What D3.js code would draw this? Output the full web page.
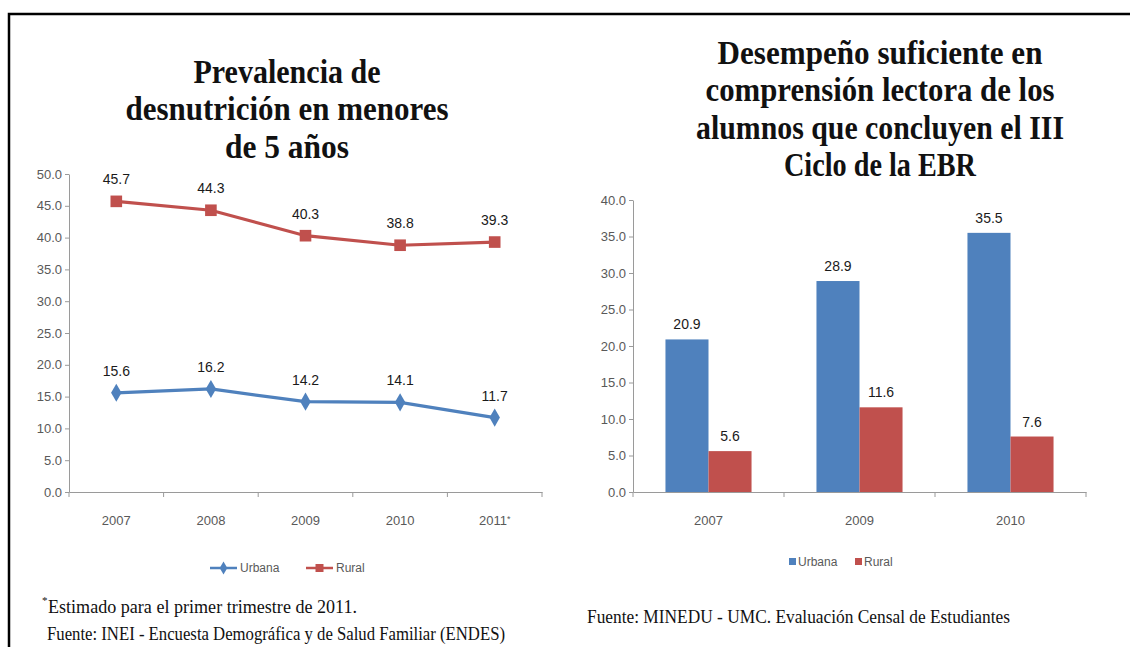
<!DOCTYPE html>
<html>
<head>
<meta charset="utf-8">
<script src="https://cdn.jsdelivr.net/npm/d3@7"></script>
<style>
  body { margin: 0; background: #fff; }
  .tick text { font-family: "Liberation Sans", Arial, sans-serif; font-size: 13px; fill: #595959; }
  .axis path, .axis line { stroke: #9a9a9a; }
  .serif { font-family: "Liberation Serif", "DejaVu Serif", serif; fill: #111; }
  .lbl { font-family: "Liberation Sans", Arial, sans-serif; font-size: 14px; fill: #1a1a1a; }
  .leg { font-family: "Liberation Sans", Arial, sans-serif; font-size: 12px; fill: #595959; }
</style>
</head>
<body>
<div id="chart"></div>
<script>
// left chart: line
const lineYears = ['2007', '2008', '2009', '2010', '2011'];
const lineUrbana = [15.6, 16.2, 14.2, 14.1, 11.7];
const lineRural = [45.7, 44.3, 40.3, 38.8, 39.3];
const lineTicks = [0, 5, 10, 15, 20, 25, 30, 35, 40, 45, 50];
const lineTitle = ['Prevalencia de', 'desnutrición en menores', 'de 5 años'];

// right chart: bars
const barYears = ['2007', '2009', '2010'];
const barUrbana = [20.9, 28.9, 35.5];
const barRural = [5.6, 11.6, 7.6];
const barTicks = [0, 5, 10, 15, 20, 25, 30, 35, 40];
const barTitle = ['Desempeño suficiente en', 'comprensión lectora de los', 'alumnos que concluyen el III', 'Ciclo de la EBR'];

const seriesNames = ['Urbana', 'Rural'];
const blue = "#4f81bd";
const red = "#c0504d";

const W = 1130, H = 647;
const svg = d3.select("#chart").append("svg")
    .attr("width", W)
    .attr("height", H);
svg.append("rect").attr("width", W).attr("height", H).attr("fill", "#fff");

// frame (top + left only)
svg.append("path")
    .attr("d", `M9,${H} L9,14 L${W},14`)
    .attr("fill", "none")
    .attr("stroke", "#000")
    .attr("stroke-width", 2.5);

function title(lines, cx, y0, widths) {
    lines.forEach((t, i) => {
        svg.append("text").attr("class", "serif")
            .attr("x", cx).attr("y", y0 + i * 37.3)
            .attr("text-anchor", "middle")
            .attr("font-size", 34).attr("font-weight", "bold")
            .attr("textLength", widths[i]).attr("lengthAdjust", "spacingAndGlyphs")
            .text(t);
    });
}
title(lineTitle, 287, 83, [187, 323, 124]);
title(barTitle, 880, 64, [325, 349, 368, 192]);

// ---------- line chart ----------
const y1 = d3.scaleLinear().domain([0, 50]).range([492, 174]);
const x1 = d3.scaleBand().domain(lineYears).range([69, 542]);

svg.append("g").attr("class", "axis")
    .attr("transform", "translate(69,0)")
    .call(d3.axisLeft(y1).tickValues(lineTicks).tickFormat(d3.format(".1f")).tickSize(4).tickSizeOuter(0).tickPadding(3));

const xa1 = svg.append("g").attr("class", "axis")
    .attr("transform", "translate(0,492)")
    .call(d3.axisBottom(x1).tickSize(0).tickPadding(24));
xa1.selectAll(".tick text").filter(d => d === '2011').append("tspan")
    .attr("font-size", 9).attr("dy", -3).text("*");
xa1.selectAll(".bnd").data(lineYears.concat([null])).enter().append("line")
    .attr("x1", (d, i) => i < lineYears.length ? x1(d) : x1.range()[1])
    .attr("x2", (d, i) => i < lineYears.length ? x1(d) : x1.range()[1])
    .attr("y1", 0).attr("y2", 5).attr("stroke", "#9a9a9a");

const cx1 = d => x1(d) + x1.bandwidth() / 2;
const lineGen = d3.line().x((d, i) => cx1(lineYears[i])).y(d => y1(d));

[[lineUrbana, blue, "diamond"], [lineRural, red, "square"]].forEach(([vals, col, shape]) => {
    svg.append("path").datum(vals)
        .attr("d", lineGen)
        .attr("fill", "none").attr("stroke", col).attr("stroke-width", 3.2);
    const sym = shape === "square" ? d3.symbolSquare : d3.symbolDiamond;
    const sz = shape === "square" ? 135 : 95;
    svg.selectAll(null).data(vals).enter().append("path")
        .attr("d", d3.symbol().type(sym).size(sz))
        .attr("transform", (d, i) => `translate(${cx1(lineYears[i])},${y1(d)})`)
        .attr("fill", col);
    svg.selectAll(null).data(vals).enter().append("text").attr("class", "lbl")
        .attr("x", (d, i) => cx1(lineYears[i]))
        .attr("y", d => y1(d) - 17)
        .attr("text-anchor", "middle")
        .text(d => d.toFixed(1));
});

// legend left
const lg1 = svg.append("g").attr("transform", "translate(210,568)");
lg1.append("line").attr("x1", 0).attr("x2", 27).attr("stroke", blue).attr("stroke-width", 2.5);
lg1.append("path").attr("d", d3.symbol().type(d3.symbolDiamond).size(50)).attr("transform", "translate(13.5,0)").attr("fill", blue);
lg1.append("text").attr("class", "leg").attr("x", 30).attr("y", 4).text(seriesNames[0]);
lg1.append("line").attr("x1", 96).attr("x2", 123).attr("stroke", red).attr("stroke-width", 2.5);
lg1.append("path").attr("d", d3.symbol().type(d3.symbolSquare).size(64)).attr("transform", "translate(109.5,0)").attr("fill", red);
lg1.append("text").attr("class", "leg").attr("x", 126).attr("y", 4).text(seriesNames[1]);

// ---------- bar chart ----------
const y2 = d3.scaleLinear().domain([0, 40]).range([492, 200]);
const x2 = d3.scaleBand().domain(barYears).range([633, 1086]);
const xs = d3.scaleBand().domain(seriesNames).range([x2.bandwidth() * 0.215, x2.bandwidth() * 0.785]);

svg.append("g").attr("class", "axis")
    .attr("transform", "translate(633,0)")
    .call(d3.axisLeft(y2).tickValues(barTicks).tickFormat(d3.format(".1f")).tickSize(4).tickSizeOuter(0).tickPadding(3));

const xa2 = svg.append("g").attr("class", "axis")
    .attr("transform", "translate(0,492)")
    .call(d3.axisBottom(x2).tickSize(0).tickPadding(24));
xa2.selectAll(".bnd").data(barYears.concat([null])).enter().append("line")
    .attr("x1", (d, i) => i < barYears.length ? x2(d) : x2.range()[1])
    .attr("x2", (d, i) => i < barYears.length ? x2(d) : x2.range()[1])
    .attr("y1", 0).attr("y2", 5).attr("stroke", "#9a9a9a");

const barData = [];
barYears.forEach((yr, i) => {
    barData.push({ year: yr, s: 'Urbana', v: barUrbana[i], c: blue });
    barData.push({ year: yr, s: 'Rural', v: barRural[i], c: red });
});
svg.selectAll(".bar").data(barData).enter().append("rect")
    .attr("class", "bar")
    .attr("x", d => x2(d.year) + xs(d.s))
    .attr("y", d => y2(d.v))
    .attr("width", xs.bandwidth())
    .attr("height", d => y2(0) - y2(d.v))
    .attr("fill", d => d.c);
svg.selectAll(".blbl").data(barData).enter().append("text").attr("class", "lbl")
    .attr("x", d => x2(d.year) + xs(d.s) + xs.bandwidth() / 2)
    .attr("y", d => y2(d.v) - 10)
    .attr("text-anchor", "middle")
    .text(d => d.v.toFixed(1));

// legend right
const lg2 = svg.append("g").attr("transform", "translate(789,562)");
lg2.append("rect").attr("x", 0).attr("y", -4).attr("width", 7).attr("height", 7).attr("fill", blue);
lg2.append("text").attr("class", "leg").attr("x", 9).attr("y", 4).text(seriesNames[0]);
lg2.append("rect").attr("x", 66).attr("y", -4).attr("width", 7).attr("height", 7).attr("fill", red);
lg2.append("text").attr("class", "leg").attr("x", 75).attr("y", 4).text(seriesNames[1]);

// ---------- footnotes ----------
svg.append("text").attr("class", "serif").attr("x", 42).attr("y", 604).attr("font-size", 11).text("*");
svg.append("text").attr("class", "serif").attr("x", 48).attr("y", 613).attr("font-size", 19)
    .attr("textLength", 309).attr("lengthAdjust", "spacingAndGlyphs")
    .text("Estimado para el primer trimestre de 2011.");
svg.append("text").attr("class", "serif").attr("x", 47).attr("y", 640).attr("font-size", 19)
    .attr("textLength", 458).attr("lengthAdjust", "spacingAndGlyphs")
    .text("Fuente: INEI - Encuesta Demográfica y de Salud Familiar (ENDES)");
svg.append("text").attr("class", "serif").attr("x", 587).attr("y", 623).attr("font-size", 19)
    .attr("textLength", 423).attr("lengthAdjust", "spacingAndGlyphs")
    .text("Fuente: MINEDU - UMC. Evaluación Censal de Estudiantes");
</script>
</body>
</html>
